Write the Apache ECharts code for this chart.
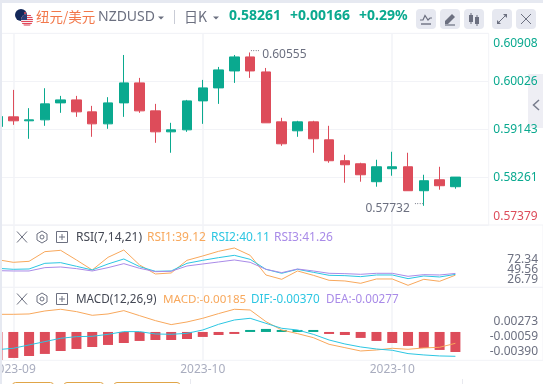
<!DOCTYPE html>
<html><head><meta charset="utf-8">
<style>html,body{margin:0;padding:0;background:#fff}#c{width:543px;height:384px}</style>
<script src="https://cdn.jsdelivr.net/npm/echarts@6/dist/echarts.min.js"></script>
</head><body><div id="c"></div>
<script>
const dates=['2023-09-22','2023-09-25','2023-09-26','2023-09-27','2023-09-28','2023-09-29','2023-10-02','2023-10-03','2023-10-04','2023-10-05','2023-10-06','2023-10-09','2023-10-10','2023-10-11','2023-10-12','2023-10-13','2023-10-16','2023-10-17','2023-10-18','2023-10-19','2023-10-20','2023-10-23','2023-10-24','2023-10-25','2023-10-26','2023-10-27','2023-10-30','2023-10-31','2023-11-01','2023-11-02','',''];
// open, close, low, high
const candles=[
[.59192,.59376,.59192,.59400],[.59370,.59297,.59223,.59866],[.59297,.59315,.58966,.59530],[.59315,.59609,.59205,.59897],
[.59627,.59682,.59444,.59756],[.59682,.59462,.59370,.59756],[.59462,.59241,.59003,.59572],[.59241,.59627,.59150,.59732],
[.59627,.59995,.59370,.60509],[.59995,.59480,.59444,.60087],[.59480,.59094,.58892,.59609],[.59094,.59131,.58709,.59260],
[.59131,.59664,.59094,.59682],[.59664,.59903,.59241,.60050],[.59903,.60234,.59609,.60289],[.60215,.60473,.59995,.60509],
[.60473,.60215,.60087,.60555],[.60197,.59260,.59260,.60270],[.59278,.58874,.58837,.59352],[.59113,.59278,.59003,.59297],
[.59278,.58966,.58709,.59297],[.58947,.58562,.58525,.59205],[.58562,.58488,.58157,.58672],[.58506,.58304,.58176,.58525],
[.58176,.58451,.58084,.58580],[.58415,.58451,.58286,.58727],[.58451,.58010,.58010,.58709],[.58010,.58194,.57732,.58304],
[.58212,.58102,.58029,.58451],[.58084,.58261,.58047,.58261]];
const rsi1=[58.11,54.85,56.07,67.87,69.49,57.70,45.50,60.95,69.90,51.60,40.62,41.84,57.29,62.58,68.27,72.34,63.39,39.40,34.11,44.28,38.99,32.89,32.08,29.23,34.52,34.52,26.79,34.11,31.67,39.12];
const rsi2=[47.53,46.31,46.72,53.63,54.45,49.97,45.50,52.82,58.92,49.57,43.87,44.28,53.63,57.29,60.55,63.39,58.51,46.31,41.43,46.31,42.65,38.99,38.58,37.36,39.40,39.40,34.92,38.18,36.96,40.11];
const rsi3=[44.68,44.28,44.28,48.35,49.16,47.13,44.28,48.35,53.23,47.53,43.46,43.87,50.38,52.82,55.26,57.70,54.85,46.31,42.24,46.72,44.28,41.43,41.02,40.21,41.43,41.43,37.77,39.80,39.40,41.26];
const macdBars=[-.00259,-.00240,-.00222,-.00203,-.00176,-.00157,-.00139,-.00120,-.00102,-.00083,-.00074,-.00074,-.00065,-.00046,-.00028,-.00009,.00018,.00028,.00018,.00018,.00005,-.00009,-.00028,-.00055,-.00083,-.00102,-.00129,-.00148,-.00166,-.00185];
const macdOrange=[.00202,.00202,.00207,.00249,.00273,.00240,.00188,.00207,.00254,.00183,.00113,.00057,.00094,.00146,.00212,.00273,.00263,.00099,-.00019,-.00070,-.00127,-.00221,-.00268,-.00315,-.00301,-.00277,-.00291,-.00272,-.00263,-.00207];
const macdCyan=[-.00296,-.00277,-.00230,-.00183,-.00136,-.00113,-.00108,-.00080,-.00042,-.00042,-.00075,-.00080,-.00066,-.00019,.00061,.00122,.00146,.00075,.00005,-.00019,-.00080,-.00160,-.00216,-.00258,-.00287,-.00305,-.00352,-.00371,-.00385,-.00390];
const priceTicks=[.57379,.58261,.59143,.60026,.60908];
const rsiTicks=[26.79,49.56,72.34];
const macdTicks=[-.0039,-.00059,.00273];
const xLabelIdx=[1,13,25];
const GREEN='#0aa98f',RED='#dd4c5a',OR='#f8a85c',CY='#2cc6e2',PU='#a98be8',LINE='#f2f3f7',FONT='"Noto Sans",sans-serif',GREY='#6c7080';

const L=-10.4,W=505.28,T=[33.3,225,287.3],H=[191.7,62.3,73];
const OB={outerBoundsMode:'none',containLabel:false};
const xSplit={show:true,alignWithLabel:true,interval:(i)=>xLabelIdx.includes(i),lineStyle:{color:LINE,width:1.5}};
const hiddenX=(g)=>({type:'category',gridIndex:g,data:dates,show:false});
const dataX=(g,lab)=>({type:'category',gridIndex:g,data:dates,boundaryGap:true,axisLine:{show:false},axisTick:{show:false},splitLine:xSplit,
  axisLabel:{show:!!lab,hideOverlap:false,interval:(i)=>xLabelIdx.includes(i),formatter:(v)=>v.slice(0,7),color:'#a9adbf',fontSize:12,fontFamily:FONT,margin:3}});
const frame=(i)=>({...OB,left:0,width:543,top:T[i],height:H[i],show:true,borderColor:LINE,borderWidth:1,backgroundColor:'transparent'});

const tx=(x,y,text,fill,size,weight,font)=>({type:'text',z:60,style:{x,y,text,fill,font:`${weight||400} ${size}px ${font||FONT}`,textVerticalAlign:'middle',textBaseline:'middle'}});
const ln=(x1,y1,x2,y2,stroke,w)=>({type:'line',z:60,shape:{x1,y1,x2,y2},style:{stroke:stroke||GREY,lineWidth:w||1.2}});
const btn=(x)=>({type:'rect',z:50,shape:{x,y:9,width:20,height:20,r:4},style:{fill:'#e6e8f0'}});
const tri=(cx,cy)=>({type:'polygon',z:60,shape:{points:[[cx-3,cy-1.5],[cx+3,cy-1.5],[cx,cy+1.5]]},style:{fill:GREY}});
function panelIcons(y){return [ln(17,y-5.5,27,y+5.5,GREY,1),ln(27,y-5.5,17,y+5.5,GREY,1),
 {type:'polygon',z:60,shape:{points:[[42,y-6],[47,y-3],[47,y+3],[42,y+6],[37,y+3],[37,y-3]]},style:{fill:'none',stroke:GREY,lineWidth:1}},
 {type:'circle',z:60,shape:{cx:42,cy:y,r:2},style:{fill:'none',stroke:GREY,lineWidth:1}},
 {type:'rect',z:60,shape:{x:56.5,y:y-5.5,width:11,height:11},style:{fill:'none',stroke:GREY,lineWidth:1}},
 ln(59,y,65,y,GREY,1),ln(62,y-3,62,y+3,GREY,1)];}
const stripes=[];
[15.5,17.5,19.5,21.5,23.5,25].forEach(y=>{const h=Math.sqrt(Math.max(0,36-(y-20)*(y-20)));stripes.push(ln(27-h,y,27+h,y,'#e4485a',1));});

const graphic=[
 {type:'rect',z:100,shape:{x:0,y:0,width:2,height:384},style:{fill:'#e6e9f1'}},
 {type:'rect',z:100,shape:{x:0,y:0,width:543,height:3},style:{fill:'#e6e9f1'}},
 {type:'rect',z:-1,shape:{x:528,y:74,width:15,height:54},style:{fill:'#eeeef4'}},
 {type:'polyline',z:60,shape:{points:[[539,100],[533.5,105],[539,110]]},style:{stroke:'#777c8c',fill:'none',lineWidth:1.5}},
 {type:'circle',z:60,shape:{cx:21,cy:15,r:6},style:{fill:'#14285a'}},
 {type:'circle',z:61,shape:{cx:25,cy:13,r:1},style:{fill:'#e4485a'}},
 {type:'circle',z:61,shape:{cx:26,cy:16,r:1},style:{fill:'#e4485a'}},
 {type:'circle',z:60,shape:{cx:27,cy:20,r:6},style:{fill:'#f4eef0'}},
 ...stripes,
 {type:'sector',z:62,shape:{cx:27,cy:20,r:6,r0:0,startAngle:Math.PI,endAngle:Math.PI*1.5},style:{fill:'#2b3f78'}},
 tx(36,16.5,'纽元/美元','#f2784b',13.5,400,'"Noto Sans CJK SC"'),
 tx(98,17.5,'NZDUSD',GREY,14),tri(161,18),ln(174.5,10,174.5,24,'#c9ccd6',1),
 tx(184,16.5,'日K',GREY,14,400,'"Noto Sans CJK SC"'),tri(216,18),
 tx(229,16.5,'0.58261',GREEN,14,700),tx(290,16.5,'+0.00166',GREEN,14,700),tx(359,16.5,'+0.29%',GREEN,14,700),
 btn(416),btn(440),btn(464),btn(492),btn(516),
 {type:'polyline',z:60,shape:{points:[[420,20],[423,20],[425,15.5],[428,20],[430,18],[432,18]]},style:{stroke:GREY,fill:'none',lineWidth:1.2}},
 ln(421,24,431,24,GREY,1.4),
 {type:'polygon',z:60,shape:{points:[[445,21],[452,14],[455,17],[448,24],[445,24]]},style:{fill:GREY}},ln(445,25,455,25,GREY,1.2),
 {type:'rect',z:60,shape:{x:469,y:15,width:4,height:7},style:{fill:GREY}},ln(471,13,471,24,GREY,1),
 {type:'rect',z:60,shape:{x:475,y:17,width:4,height:7},style:{fill:GREY}},ln(477,15,477,26,GREY,1),
 ln(498,23,506,15,GREY,1),{type:'polygon',z:60,shape:{points:[[503,14],[507,14],[507,18]]},style:{fill:GREY}},{type:'polygon',z:60,shape:{points:[[497,20],[497,24],[501,24]]},style:{fill:GREY}},
 ln(521,14,531,24,GREY,1),ln(531,14,521,24,GREY,1),
 ...panelIcons(237),
 tx(76,237.5,'RSI(7,14,21)','#444854',12),tx(147,237.5,'RSI1:39.12',OR,12),tx(211,237.5,'RSI2:40.11',CY,12),tx(274,237.5,'RSI3:41.26',PU,12),
 ...panelIcons(299),
 tx(76,299.5,'MACD(12,26,9)','#444854',11.7),tx(163,299.5,'MACD:-0.00185',OR,11.6),tx(251,299.5,'DIF:-0.00370',CY,11.7),tx(326,299.5,'DEA:-0.00277',PU,11.7),
 {type:'rect',z:60,shape:{x:12.5,y:382.5,width:41,height:6,r:3},style:{fill:'none',stroke:'#e0a548',lineWidth:1}},
 {type:'rect',z:60,shape:{x:64,y:382.5,width:39.5,height:6,r:3},style:{fill:'none',stroke:'#e0a548',lineWidth:1}},
 {type:'rect',z:60,shape:{x:114,y:382.5,width:66,height:6,r:3},style:{fill:'none',stroke:'#e0a548',lineWidth:1}},
 ln(190.5,379,190.5,384,'#e8e9ef',1),ln(462.5,379,462.5,384,'#e8e9ef',1)
];

const rsiLabelAxis=(t)=>({type:'value',gridIndex:3,min:10.4,max:148.1,position:'right',axisLine:{show:false},axisTick:{show:false},splitLine:{show:false},
   axisLabel:{hideOverlap:false,inside:true,customValues:[t],margin:5,fontSize:12,fontFamily:FONT,color:GREY,formatter:(v)=>v.toFixed(2)}});
const hi=.60555,lo=.57732;
const option={animation:false,backgroundColor:'#fff',graphic,
 grid:[
  {...OB,left:L,width:W,top:T[0],height:H[0]},
  {...OB,left:0,width:488.7,top:T[0],height:H[0],show:true,borderColor:LINE,borderWidth:1},
  {...OB,left:L,width:W,top:T[1],height:H[1]},
  frame(1),
  {...OB,left:L,width:W,top:T[2],height:H[2]},
  frame(2)],
 xAxis:[dataX(0),hiddenX(1),dataX(2),hiddenX(3),dataX(4,true),hiddenX(5)],
 yAxis:[
  {type:'value',gridIndex:0,min:.57379,max:.60908,show:false,splitLine:{show:false}},
  {type:'value',gridIndex:1,min:.57379,max:.60908,position:'right',axisLine:{show:false},axisTick:{show:false,customValues:priceTicks},
   splitLine:{show:true,lineStyle:{color:LINE,width:1}},
   axisLabel:{hideOverlap:false,customValues:priceTicks,margin:4.6,fontSize:12,lineHeight:16,padding:[2,0,0,0],fontFamily:FONT,formatter:(v)=>v.toFixed(5),color:(v)=>v<.575?RED:GREEN,verticalAlignMinLabel:'bottom',verticalAlignMaxLabel:'top'}},
  {type:'value',gridIndex:2,min:24.35,max:100.4,show:false,splitLine:{show:false}},
  ...rsiTicks.map(rsiLabelAxis),
  {type:'value',gridIndex:4,min:-.004464,max:.005829,show:false,splitLine:{show:false}},
  {type:'value',gridIndex:4,min:-.002618,max:.004127,show:false,splitLine:{show:false}},
  {type:'value',gridIndex:5,min:-.005815,max:.010318,position:'right',axisLine:{show:false},axisTick:{show:false},splitLine:{show:false},
   axisLabel:{hideOverlap:false,inside:true,customValues:macdTicks,margin:5,fontSize:12,fontFamily:FONT,color:GREY,formatter:(v)=>v.toFixed(5)}}
 ],
 series:[
  {type:'candlestick',xAxisIndex:0,yAxisIndex:0,data:candles,barWidth:10,
   itemStyle:{color:GREEN,color0:RED,borderColor:GREEN,borderColor0:RED,borderWidth:1},
   markPoint:{symbol:'circle',symbolSize:0,silent:true,data:[
    {coord:[dates[16],hi],value:hi,label:{show:true,position:'right',distance:0,offset:[0,-1],formatter:'····',color:'#8a8d99',fontSize:9,fontFamily:FONT}},
    {coord:[dates[16],hi],value:hi,label:{show:true,position:'right',distance:0,offset:[12,2.6],formatter:String(hi),color:GREY,fontSize:12,fontFamily:FONT}},
    {coord:[dates[27],lo],value:lo,label:{show:true,position:'left',distance:0,offset:[0,-1],formatter:'····',color:'#8a8d99',fontSize:9,fontFamily:FONT}},
    {coord:[dates[27],lo],value:lo,label:{show:true,position:'left',distance:0,offset:[-14,2.3],formatter:String(lo),color:GREY,fontSize:12,fontFamily:FONT}}
   ]}},
  {type:'line',xAxisIndex:2,yAxisIndex:2,data:rsi1,symbol:'none',lineStyle:{color:OR,width:1}},
  {type:'line',xAxisIndex:2,yAxisIndex:2,data:rsi2,symbol:'none',lineStyle:{color:CY,width:1}},
  {type:'line',xAxisIndex:2,yAxisIndex:2,data:rsi3,symbol:'none',lineStyle:{color:PU,width:1}},
  {type:'bar',xAxisIndex:4,yAxisIndex:7,data:macdBars,barWidth:10,barMinHeight:2,itemStyle:{color:(p)=>p.value<0?RED:GREEN}},
  {type:'line',xAxisIndex:4,yAxisIndex:6,data:macdOrange,symbol:'none',z:3,lineStyle:{color:OR,width:1}},
  {type:'line',xAxisIndex:4,yAxisIndex:6,data:macdCyan,symbol:'none',z:3,lineStyle:{color:CY,width:1}}
 ]};
echarts.init(document.getElementById('c')).setOption(option);
</script></body></html>
